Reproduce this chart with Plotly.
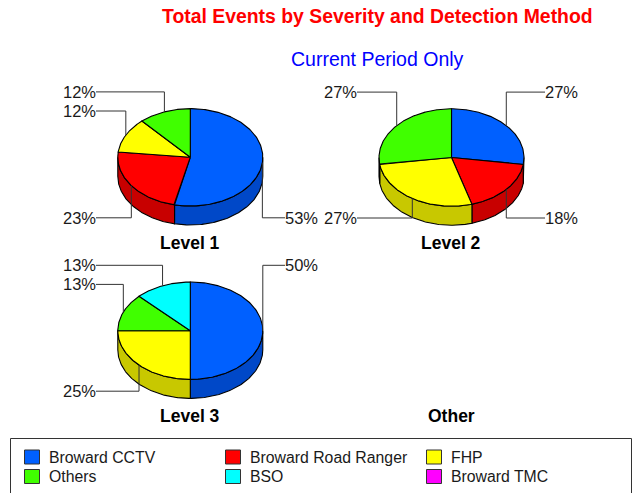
import numpy as np
import plotly.graph_objects as go

# ---- data ----
categories = ["Broward CCTV", "Broward Road Ranger", "FHP", "Others", "BSO", "Broward TMC"]
level_names = ["Level 1", "Level 2", "Level 3", "Other"]
level1_values = [23, 10, 5, 5, 0, 0]
level2_values = [3, 2, 3, 3, 0, 0]
level3_values = [4, 0, 2, 1, 1, 0]
other_values = [0, 0, 0, 0, 0, 0]
level1_labels = ["53%", "23%", "12%", "12%", "", ""]
level2_labels = ["27%", "18%", "27%", "27%", "", ""]
level3_labels = ["50%", "", "25%", "13%", "13%", ""]
other_labels = ["", "", "", "", "", ""]

# ---- styles / layout ----
TOP = ["#0060FF", "#FF0000", "#FFFF00", "#40FF00", "#00FFFF", "#FF00FF"]
SIDE = ["#0048C8", "#C80000", "#C8C800", "#30C800", "#00C8C8", "#C800C8"]
FONT = "Liberation Sans, Arial, sans-serif"
RX, RY, DEPTH = 72.5, 48.7, 19
UP1, UP2, DOWN = -65.4, -46.3, 60.5
pies = [
    dict(cx=190.3, cy=157.3, vals=level1_values, labs=level1_labels, name=level_names[0], name_y=243,
         left=96, right=285, label_dy=[DOWN, DOWN, UP2, UP1, 0, 0]),
    dict(cx=451.5, cy=157.5, vals=level2_values, labs=level2_labels, name=level_names[1], name_y=243,
         left=357, right=545, label_dy=[UP1, DOWN, DOWN, UP1, 0, 0]),
    dict(cx=190.3, cy=330.7, vals=level3_values, labs=level3_labels, name=level_names[2], name_y=416,
         left=96, right=285, label_dy=[UP1, 0, DOWN, UP2, UP1, 0]),
    dict(cx=451.5, cy=330.7, vals=other_values, labs=other_labels, name=level_names[3], name_y=416,
         left=357, right=545, label_dy=[0, 0, 0, 0, 0, 0]),
]


def ell(cx, cy, deg, dy=0.0):
    t = np.radians(deg)
    return cx + RX * np.sin(t), cy - RY * np.cos(t) + dy


fig = go.Figure()
annotations = []


def poly(xs, ys, fill):
    fig.add_trace(go.Scatter(x=list(xs), y=list(ys), mode="lines", fill="toself", fillcolor=fill,
                             line=dict(color="#000000", width=1.1), hoverinfo="skip", showlegend=False))


def text(x, y, s, size=16.5, color="#1a1a1a", bold=False, anchor="center"):
    annotations.append(dict(x=x, y=y, xref="x", yref="y", text=f"<b>{s}</b>" if bold else s, showarrow=False,
                            xanchor=anchor, yanchor="middle", font=dict(family=FONT, size=size, color=color),
                            borderpad=0, borderwidth=0))


for p in pies:
    vals = np.array(p["vals"], dtype=float)
    cx, cy = p["cx"], p["cy"]
    total = vals.sum()
    if total > 0:
        ends = np.cumsum(vals) / total * 360
        starts = ends - vals / total * 360
        # side walls (front half only)
        for i, v in enumerate(vals):
            a, b = max(starts[i], 90), min(ends[i], 270)
            if v > 0 and b > a:
                d = np.linspace(a, b, 90)
                xt, yt = ell(cx, cy, d)
                xb, yb = ell(cx, cy, d[::-1], DEPTH)
                poly(np.r_[xt, xb, xt[0]], np.r_[yt, yb, yt[0]], SIDE[i])
        # top faces
        for i, v in enumerate(vals):
            if v > 0:
                d = np.linspace(starts[i], ends[i], 180)
                xt, yt = ell(cx, cy, d)
                poly(np.r_[cx, xt, cx], np.r_[cy, yt, cy], TOP[i])
        # leader lines and labels
        for i, v in enumerate(vals):
            if v > 0:
                mid = (starts[i] + ends[i]) / 2
                ax, ay = ell(cx, cy, mid)
                ly = cy + p["label_dy"][i]
                right = mid < 180
                lx = p["right"] if right else p["left"]
                fig.add_trace(go.Scatter(x=[ax, ax, lx], y=[ay, ly, ly], mode="lines",
                                         line=dict(color="#333333", width=1), hoverinfo="skip", showlegend=False))
                text(lx + (0 if right else -0.5), ly, p["labs"][i], anchor="left" if right else "right")
    text(cx - 0.5, p["name_y"], p["name"], size=17.5, bold=True, color="#000000")

text(377, 16, "Total Events by Severity and Detection Method", size=19.4, color="#FF0000", bold=True)
text(377.5, 59, "Current Period Only", size=19.5, color="#0000FF")

# legend drawn to match the boxed three-column layout
shapes = [dict(type="rect", xref="x", yref="y", x0=10.5, x1=631.5, y0=438.5, y1=500,
               line=dict(color="#333333", width=1), fillcolor="#FFFFFF", layer="below")]
col_x = [24.5, 225.5, 426.5]
row_y = [457, 476.5]
for i, c in enumerate(categories):
    x = col_x[i % 3]
    y = row_y[i // 3]
    shapes.append(dict(type="rect", xref="x", yref="y", x0=x, x1=x + 15, y0=y - 7, y1=y + 7,
                       line=dict(color="#333333", width=1), fillcolor=TOP[i]))
    text(x + 24.5, y, c, size=15.8, color="#1a1a1a", anchor="left")

fig.update_layout(
    width=644, height=493, margin=dict(l=0, r=0, t=0, b=0), paper_bgcolor="#FFFFFF", plot_bgcolor="#FFFFFF",
    xaxis=dict(range=[0, 644], visible=False, fixedrange=True),
    yaxis=dict(range=[493, 0], visible=False, fixedrange=True),
    showlegend=False, annotations=annotations, shapes=shapes,
)
fig.write_html("out.html", config=dict(displayModeBar=False),
               post_script="document.documentElement.style.overflow='hidden';document.body.style.margin='0';document.body.style.overflow='hidden';")
